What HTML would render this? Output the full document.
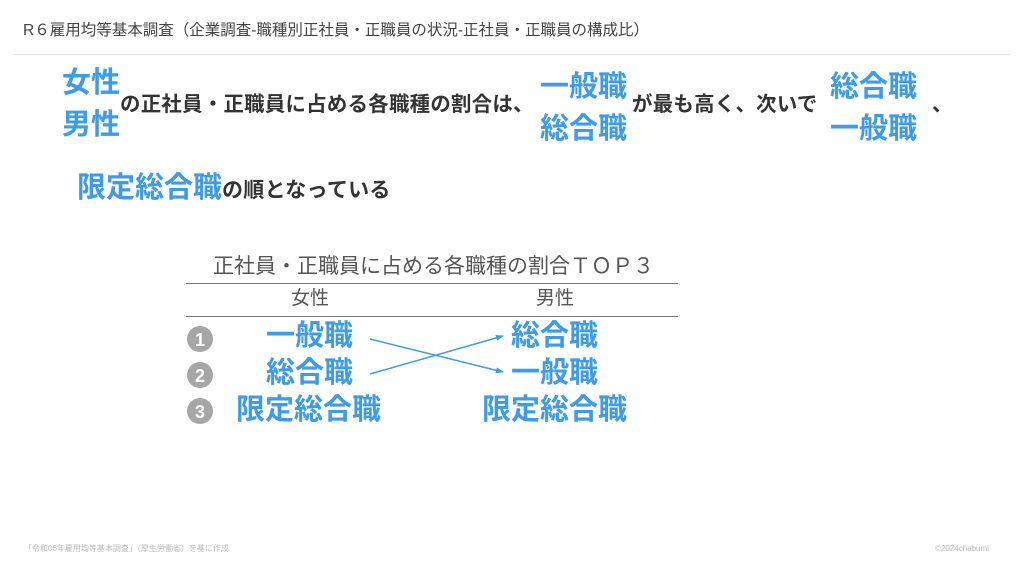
<!DOCTYPE html>
<html><head><meta charset="utf-8"><style>
body{margin:0;width:1024px;height:576px;background:#fff;position:relative;overflow:hidden;font-family:"Liberation Sans","Noto Sans CJK JP",sans-serif}
.a{position:absolute;white-space:nowrap;line-height:1}
.b{color:#3d9be9;font-weight:bold;font-size:29px}
.k{color:#333;font-weight:bold;font-size:20.4px;letter-spacing:0.3px}
.c{position:absolute;width:26px;height:26px;border-radius:50%;background:#a6a6a6;color:#fff;font-weight:bold;font-size:18px;text-align:center;line-height:28px}
</style></head><body>
<div class="a" style="left:23px;top:23px;font-size:15.5px;color:#444">R６雇用均等基本調査（企業調査-職種別正社員・正職員の状況-正社員・正職員の構成比）</div>
<div style="position:absolute;left:13px;top:54px;width:997px;height:1px;background:#e6e6e6"></div>

<div class="a b" style="left:62px;top:69px">女性</div>
<div class="a b" style="left:62px;top:111px">男性</div>
<div class="a k" style="left:120px;top:95px">の正社員・正職員に占める各職種の割合は、</div>
<div class="a b" style="left:540px;top:73px">一般職</div>
<div class="a b" style="left:540px;top:115px">総合職</div>
<div class="a k" style="left:632px;top:95px">が最も高く、次いで</div>
<div class="a b" style="left:830px;top:73px">総合職</div>
<div class="a b" style="left:830px;top:115px">一般職</div>
<div class="a k" style="left:932px;top:95px">、</div>

<div class="a b" style="left:77px;top:174px">限定総合職</div>
<div class="a k" style="left:222px;top:180px;font-size:21px">の順となっている</div>

<div class="a" style="left:213px;top:256px;font-size:21px;color:#555">正社員・正職員に占める各職種の割合ＴＯＰ３</div>
<div style="position:absolute;left:186px;top:283px;width:492px;height:1px;background:#777"></div>
<div class="a" style="left:291px;top:289px;font-size:19px;color:#555">女性</div>
<div class="a" style="left:536px;top:289px;font-size:19px;color:#555">男性</div>
<div style="position:absolute;left:186px;top:316px;width:492px;height:1px;background:#777"></div>

<div class="c" style="left:187px;top:326px">1</div>
<div class="c" style="left:187px;top:362px">2</div>
<div class="c" style="left:187px;top:398px">3</div>

<div class="a b" style="left:266px;top:322px">一般職</div>
<div class="a b" style="left:266px;top:359px">総合職</div>
<div class="a b" style="left:236px;top:396px">限定総合職</div>
<div class="a b" style="left:511px;top:322px">総合職</div>
<div class="a b" style="left:511px;top:359px">一般職</div>
<div class="a b" style="left:482px;top:396px">限定総合職</div>

<svg style="position:absolute;left:0;top:0" width="1024" height="576">
<defs><marker id="m" markerWidth="8" markerHeight="8" refX="7" refY="4" orient="auto" markerUnits="userSpaceOnUse"><path d="M0,1 L8,4 L0,7 z" fill="#3d9be9"/></marker></defs>
<line x1="370" y1="339" x2="503" y2="372" stroke="#3d9be9" stroke-width="1.5" marker-end="url(#m)"/>
<line x1="370" y1="374" x2="503" y2="336" stroke="#3d9be9" stroke-width="1.5" marker-end="url(#m)"/>
</svg>

<div class="a" style="left:24px;top:545px;font-size:8px;color:#bbb">「令和06年雇用均等基本調査」（厚生労働省）を基に作成</div>
<div class="a" style="left:935px;top:545px;font-size:8px;color:#bbb">©2024chabumi</div>
</body></html>
